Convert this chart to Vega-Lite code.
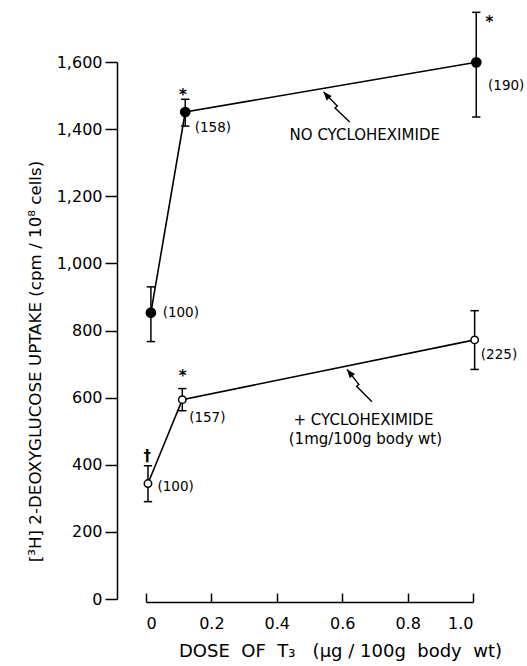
{
  "$schema": "https://vega.github.io/schema/vega-lite/v6.json",
  "width": 327,
  "height": 537,
  "autosize": "none",
  "padding": {"left": 146, "top": 62, "right": 54, "bottom": 67},
  "background": "white",
  "config": {
    "view": {"stroke": null},
    "font": "DejaVu Sans",
    "axis": {
      "grid": false,
      "domainColor": "black",
      "domainWidth": 1.5,
      "tickColor": "black",
      "tickWidth": 1.5,
      "labelColor": "black",
      "labelFont": "DejaVu Sans",
      "labelFontSize": 16,
      "titleFont": "DejaVu Sans",
      "titleFontWeight": "normal",
      "titleColor": "black",
      "titleFontSize": 16.7
    }
  },
  "datasets": {
    "pts": [
      {"series": "No cycloheximide", "dose": 0.015, "uptake": 853, "lo": 767, "hi": 930},
      {"series": "No cycloheximide", "dose": 0.12, "uptake": 1451, "lo": 1409, "hi": 1489},
      {"series": "No cycloheximide", "dose": 1.01, "uptake": 1599, "lo": 1436, "hi": 1748},
      {"series": "+ cycloheximide", "dose": 0.006, "uptake": 344, "lo": 290, "hi": 397},
      {"series": "+ cycloheximide", "dose": 0.111, "uptake": 594, "lo": 561, "hi": 627},
      {"series": "+ cycloheximide", "dose": 1.005, "uptake": 772, "lo": 684, "hi": 859}
    ],
    "counts": [
      {"dose": 0.051, "uptake": 853, "text": "(100)"},
      {"dose": 0.149, "uptake": 1402, "text": "(158)"},
      {"dose": 1.046, "uptake": 1528, "text": "(190)"},
      {"dose": 0.035, "uptake": 335, "text": "(100)"},
      {"dose": 0.132, "uptake": 539, "text": "(157)"},
      {"dose": 1.024, "uptake": 727, "text": "(225)"}
    ],
    "signif": [
      {"dose": 0.113, "uptake": 1502, "text": "*"},
      {"dose": 1.05, "uptake": 1719, "text": "*"},
      {"dose": 0.112, "uptake": 663, "text": "*"},
      {"dose": 0.004, "uptake": 425, "text": "†"}
    ],
    "notes": [
      {"dose": 0.669, "uptake": 1382, "text": "NO CYCLOHEXIMIDE"},
      {"dose": 0.665, "uptake": 533, "text": "+ CYCLOHEXIMIDE"},
      {"dose": 0.671, "uptake": 477, "text": "(1mg/100g body wt)"}
    ],
    "arrows": [
      {"arrow": 1, "order": 1, "dose": 0.543, "uptake": 1511},
      {"arrow": 1, "order": 2, "dose": 0.585, "uptake": 1469},
      {"arrow": 1, "order": 3, "dose": 0.578, "uptake": 1463},
      {"arrow": 1, "order": 4, "dose": 0.623, "uptake": 1421},
      {"arrow": 2, "order": 1, "dose": 0.615, "uptake": 684},
      {"arrow": 2, "order": 2, "dose": 0.651, "uptake": 639},
      {"arrow": 2, "order": 3, "dose": 0.644, "uptake": 634},
      {"arrow": 2, "order": 4, "dose": 0.691, "uptake": 588}
    ],
    "heads": [
      {"arrow": 1, "dose": 0.543, "uptake": 1511},
      {"arrow": 2, "dose": 0.615, "uptake": 684}
    ]
  },
  "layer": [
    {
      "data": {"name": "pts"},
      "mark": {"type": "line", "color": "black", "strokeWidth": 1.6},
      "encoding": {
        "x": {
          "field": "dose", "type": "quantitative",
          "scale": {"domain": [0, 1], "nice": false, "zero": false},
          "axis": {
            "title": "DOSE\u00a0 OF\u00a0 T₃\u00a0\u00a0 (µg\u00a0/\u00a0100g\u00a0 body\u00a0 wt)",
            "values": [0, 0.2, 0.4, 0.6, 0.8, 1.0],
            "labelExpr": "datum.value == 0 ? '0' : format(datum.value, '.1f')",
            "offset": 3,
            "tickSize": -9,
            "labelPadding": 22,
            "titleFontSize": 18,
            "titleX": 194,
            "titlePadding": 11
          }
        },
        "y": {
          "field": "uptake", "type": "quantitative",
          "scale": {"domain": [0, 1600], "nice": false},
          "axis": {
            "title": "[³H] 2-DEOXYGLUCOSE UPTAKE (cpm / 10⁸ cells)",
            "values": [0, 200, 400, 600, 800, 1000, 1200, 1400, 1600],
            "format": ",d",
            "offset": 29,
            "tickSize": 12,
            "labelPadding": 3,
            "titleX": -82,
            "titleY": 299,
            "titleBaseline": "middle",
            "titleAngle": -90
          }
        },
        "detail": {"field": "series"}
      }
    },
    {
      "data": {"name": "pts"},
      "mark": {"type": "rule", "color": "black", "strokeWidth": 1.5},
      "encoding": {
        "x": {"field": "dose", "type": "quantitative"},
        "y": {"field": "lo", "type": "quantitative"},
        "y2": {"field": "hi"}
      }
    },
    {
      "data": {"name": "pts"},
      "mark": {"type": "point", "shape": "M-1,0L1,0", "size": 70, "filled": false, "stroke": "black", "strokeWidth": 1.5, "opacity": 1},
      "encoding": {
        "x": {"field": "dose", "type": "quantitative"},
        "y": {"field": "lo", "type": "quantitative"}
      }
    },
    {
      "data": {"name": "pts"},
      "mark": {"type": "point", "shape": "M-1,0L1,0", "size": 70, "filled": false, "stroke": "black", "strokeWidth": 1.5, "opacity": 1},
      "encoding": {
        "x": {"field": "dose", "type": "quantitative"},
        "y": {"field": "hi", "type": "quantitative"}
      }
    },
    {
      "data": {"name": "pts"},
      "mark": {"type": "point", "shape": "circle", "stroke": "black", "strokeWidth": 1.5, "opacity": 1},
      "encoding": {
        "x": {"field": "dose", "type": "quantitative"},
        "y": {"field": "uptake", "type": "quantitative"},
        "fill": {
          "field": "series", "type": "nominal",
          "scale": {"domain": ["No cycloheximide", "+ cycloheximide"], "range": ["black", "white"]},
          "legend": null
        },
        "size": {
          "field": "series", "type": "nominal",
          "scale": {"domain": ["No cycloheximide", "+ cycloheximide"], "range": [85, 55]},
          "legend": null
        }
      }
    },
    {
      "data": {"name": "counts"},
      "mark": {"type": "text", "align": "left", "baseline": "middle", "fontSize": 13.5, "color": "black"},
      "encoding": {
        "x": {"field": "dose", "type": "quantitative"},
        "y": {"field": "uptake", "type": "quantitative"},
        "text": {"field": "text"}
      }
    },
    {
      "data": {"name": "signif"},
      "mark": {"type": "text", "align": "center", "baseline": "middle", "fontSize": 15, "fontWeight": "bold", "color": "black"},
      "encoding": {
        "x": {"field": "dose", "type": "quantitative"},
        "y": {"field": "uptake", "type": "quantitative"},
        "text": {"field": "text"}
      }
    },
    {
      "data": {"name": "notes"},
      "mark": {"type": "text", "align": "center", "baseline": "middle", "fontSize": 15, "color": "black"},
      "encoding": {
        "x": {"field": "dose", "type": "quantitative"},
        "y": {"field": "uptake", "type": "quantitative"},
        "text": {"field": "text"}
      }
    },
    {
      "data": {"name": "arrows"},
      "mark": {"type": "line", "color": "black", "strokeWidth": 1.4},
      "encoding": {
        "x": {"field": "dose", "type": "quantitative"},
        "y": {"field": "uptake", "type": "quantitative"},
        "detail": {"field": "arrow"},
        "order": {"field": "order"}
      }
    },
    {
      "data": {"name": "heads"},
      "transform": [{"filter": "datum.arrow == 1"}],
      "mark": {"type": "point", "shape": "M0,0L-0.6,1.5L0.6,1.5Z", "size": 130, "filled": true, "color": "black", "opacity": 1, "angle": 319},
      "encoding": {
        "x": {"field": "dose", "type": "quantitative"},
        "y": {"field": "uptake", "type": "quantitative"}
      }
    },
    {
      "data": {"name": "heads"},
      "transform": [{"filter": "datum.arrow == 2"}],
      "mark": {"type": "point", "shape": "M0,0L-0.6,1.5L0.6,1.5Z", "size": 130, "filled": true, "color": "black", "opacity": 1, "angle": 322},
      "encoding": {
        "x": {"field": "dose", "type": "quantitative"},
        "y": {"field": "uptake", "type": "quantitative"}
      }
    }
  ]
}
